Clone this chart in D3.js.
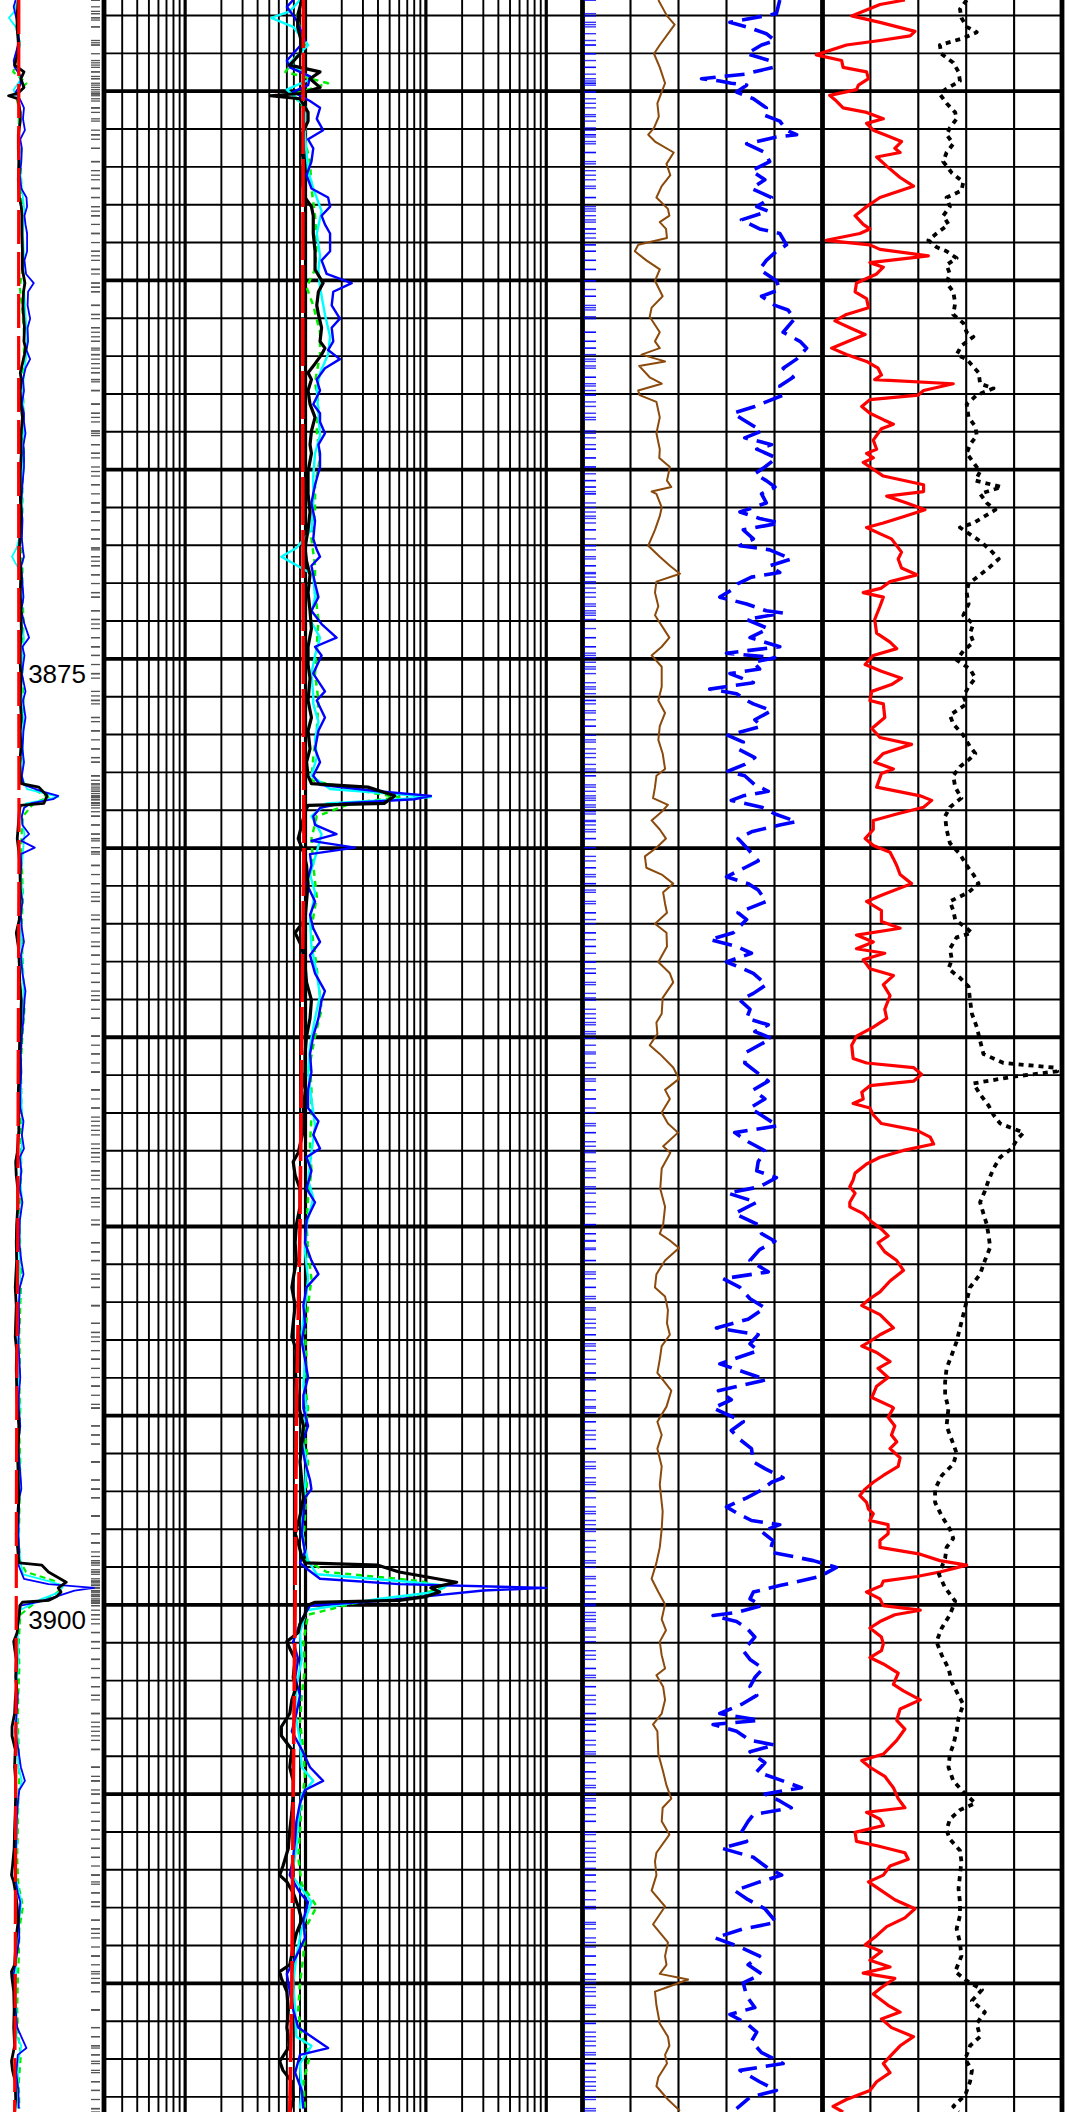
<!DOCTYPE html>
<html>
<head>
<meta charset="utf-8">
<script src="https://cdn.jsdelivr.net/npm/d3@7"></script>
<style>
  body { margin: 0; background: #fff; }
  svg { display: block; }
</style>
</head>
<body>
<div id="log"></div>
<script>
// **************** Data (depth in m, value) ****************

const depthTop = 3857.59;
const depthBottom = 3913.4;
const depthLabels = [3875, 3900];

// resistivity curves, ohm.m (black, blue, cyan, green dashed, red dashed)
const resDeep = [[3857.59,9.3],[3857.95,8.7],[3858.30,8.6],[3858.72,9.3],[3859.01,9.0],[3859.31,7.4],[3859.49,13.2],[3859.67,10.9],[3859.90,13.2],[3860.06,9.0],[3860.12,5.1],[3860.20,9.0],[3860.56,10.5],[3860.79,10.5],[3861.15,9.3],[3861.51,9.3],[3861.86,9.6],[3862.34,9.3],[3862.81,9.9],[3863.05,11.2],[3863.29,11.6],[3863.76,11.6],[3864.23,12.0],[3864.71,12.0],[3865.07,14.0],[3865.30,12.8],[3865.66,12.4],[3865.90,12.8],[3866.25,13.6],[3866.61,13.2],[3866.79,14.5],[3866.96,13.6],[3867.20,12.0],[3867.44,10.5],[3867.62,11.2],[3867.91,10.5],[3868.27,10.9],[3868.62,12.0],[3868.98,11.2],[3869.34,10.9],[3869.57,11.2],[3870.05,10.5],[3870.64,10.5],[3871.12,10.9],[3871.59,10.5],[3872.07,9.9],[3872.42,10.2],[3872.78,10.9],[3873.25,10.5],[3873.73,10.9],[3874.20,11.2],[3874.68,10.5],[3875.15,10.5],[3875.51,10.9],[3876.10,10.5],[3876.55,11.2],[3876.90,10.5],[3877.38,10.9],[3877.73,10.2],[3878.09,10.5],[3878.30,11.2],[3878.39,33],[3878.62,55],[3878.82,45],[3878.87,10.5],[3879.04,9.9],[3879.39,9.3],[3879.75,8.7],[3880.10,9.6],[3880.46,10.2],[3880.94,10.5],[3881.41,10.2],[3881.89,9.9],[3882.24,8.2],[3882.60,9.3],[3883.07,9.9],[3883.55,10.2],[3884.02,11.2],[3884.50,10.9],[3884.97,10.2],[3885.44,9.9],[3885.92,9.9],[3886.39,9.3],[3886.87,9.6],[3887.46,9.6],[3888.05,8.7],[3888.29,7.9],[3888.65,8.2],[3889.00,9.0],[3889.48,9.0],[3889.95,8.4],[3890.43,8.2],[3890.90,8.4],[3891.38,7.9],[3891.61,7.7],[3892.09,8.2],[3892.56,7.9],[3892.92,7.7],[3893.28,8.4],[3893.75,8.2],[3894.22,8.4],[3894.70,8.7],[3895.27,9.6],[3895.75,9.3],[3896.22,9.0],[3896.70,9.3],[3897.17,9.6],[3897.65,9.0],[3898.12,8.2],[3898.36,8.7],[3898.72,9.3],[3898.89,9.9],[3898.95,40],[3899.13,60],[3899.40,180],[3899.55,110],[3899.66,130],[3899.78,100],[3899.88,60],[3899.93,12],[3900.02,10.2],[3900.26,9.9],[3900.50,9.0],[3900.73,8.7],[3900.97,7.0],[3901.15,7.4],[3901.44,8.2],[3901.92,7.9],[3902.16,8.4],[3902.51,7.7],[3902.87,7.4],[3903.22,6.3],[3903.46,6.3],[3903.82,7.7],[3904.29,7.4],[3904.65,7.9],[3905.00,7.9],[3905.48,7.7],[3905.95,7.4],[3906.43,7.2],[3906.90,6.5],[3907.14,6.1],[3907.32,7.0],[3907.61,7.9],[3907.97,8.7],[3908.33,9.3],[3908.68,8.4],[3909.04,7.9],[3909.51,7.4],[3909.69,6.1],[3909.87,6.3],[3910.22,7.0],[3910.70,7.2],[3911.17,7.0],[3911.65,7.4],[3912.06,6.1],[3912.30,6.5],[3912.60,7.7],[3913.07,7.9],[3913.40,7.4]];

const resMedium = [[3857.59,7.9],[3857.77,7.0],[3857.95,7.7],[3858.12,8.4],[3858.66,9.9],[3859.19,7.0],[3859.37,7.4],[3859.61,10.9],[3859.84,10.5],[3860.02,7.9],[3860.26,10.9],[3860.44,13.2],[3860.73,12.4],[3861.03,14.0],[3861.27,10.5],[3861.51,11.6],[3861.86,11.2],[3862.22,10.2],[3862.57,11.2],[3862.81,15.4],[3863.05,16.0],[3863.29,13.6],[3863.52,14.5],[3863.76,16.0],[3864.23,16.0],[3864.47,13.6],[3864.83,15.0],[3865.07,24.2],[3865.30,17.0],[3865.66,16.5],[3866.01,19.3],[3866.25,16.5],[3866.61,17.0],[3866.84,15.4],[3867.08,19.3],[3867.32,14.5],[3867.62,12.4],[3867.91,13.2],[3868.27,11.6],[3868.51,13.2],[3868.74,13.2],[3869.04,14.5],[3869.34,12.8],[3869.57,13.2],[3869.93,13.2],[3870.40,12.0],[3870.88,11.2],[3871.35,12.0],[3871.83,11.6],[3872.12,12.4],[3872.30,13.2],[3872.54,11.2],[3873.01,12.0],[3873.37,12.8],[3873.73,11.2],[3874.08,13.6],[3874.44,18.1],[3874.68,12.0],[3874.91,13.6],[3875.39,11.6],[3875.86,14.5],[3876.10,12.4],[3876.55,14.5],[3876.90,12.8],[3877.38,12.0],[3877.73,13.2],[3878.09,11.6],[3878.33,13.2],[3878.50,40],[3878.62,110],[3878.71,80],[3878.82,20],[3878.94,13.2],[3879.16,11.6],[3879.39,12.0],[3879.63,18.1],[3879.81,11.2],[3879.99,25.7],[3880.16,10.9],[3880.46,11.2],[3880.94,10.2],[3881.41,12.0],[3881.77,10.9],[3882.12,11.6],[3882.48,13.2],[3882.83,10.9],[3883.31,12.0],[3883.78,14.5],[3884.02,13.6],[3884.50,12.8],[3884.97,11.6],[3885.44,10.9],[3885.92,11.2],[3886.39,10.5],[3886.87,10.5],[3887.22,12.8],[3887.58,11.6],[3887.94,13.2],[3888.17,10.2],[3888.53,11.2],[3889.00,10.2],[3889.36,12.0],[3889.83,10.2],[3890.43,9.9],[3890.90,11.2],[3891.26,12.8],[3891.61,10.2],[3892.09,9.6],[3892.56,9.9],[3893.04,9.3],[3893.51,9.9],[3893.99,10.5],[3894.46,9.6],[3894.80,9.6],[3895.27,10.5],[3895.75,9.3],[3896.22,9.9],[3896.70,10.9],[3896.94,11.2],[3897.17,9.9],[3897.65,9.6],[3898.12,9.3],[3898.60,9.9],[3898.89,9.0],[3899.07,10.5],[3899.31,13.2],[3899.45,60],[3899.55,1000],[3899.62,300],[3899.76,110],[3899.90,40],[3900.02,10.9],[3900.38,9.3],[3900.97,7.9],[3901.44,8.7],[3901.92,8.2],[3902.39,9.0],[3902.87,8.4],[3903.34,7.7],[3903.82,9.3],[3904.29,10.9],[3904.65,14.0],[3904.89,9.9],[3905.24,9.0],[3905.72,8.4],[3906.19,8.2],[3906.67,7.9],[3907.14,7.4],[3907.61,9.0],[3907.85,10.5],[3908.33,9.6],[3908.80,9.9],[3909.28,8.4],[3909.75,7.0],[3910.22,7.4],[3910.70,7.9],[3911.17,8.7],[3911.71,15.4],[3911.89,9.0],[3912.36,8.2],[3912.83,9.3],[3913.31,9.6]];

const resShallow = [[3857.59,9.0],[3857.89,7.4],[3858.06,5.2],[3858.30,7.9],[3858.78,10.5],[3859.25,7.4],[3859.67,11.2],[3859.96,7.0],[3860.44,10.2],[3861.15,9.9],[3862.10,10.5],[3862.57,11.6],[3863.17,13.6],[3863.76,12.4],[3864.35,13.2],[3864.71,12.8],[3865.18,13.2],[3865.90,14.5],[3866.49,16.0],[3866.96,15.4],[3867.44,13.2],[3867.91,12.4],[3868.51,12.8],[3869.10,13.2],[3869.57,12.0],[3870.17,11.6],[3870.88,11.6],[3871.59,11.2],[3872.07,8.4],[3872.30,6.3],[3872.78,11.6],[3873.37,12.0],[3873.96,10.9],[3874.44,13.2],[3874.91,12.0],[3875.39,11.2],[3875.98,11.6],[3876.19,11.6],[3876.66,12.8],[3877.14,12.0],[3877.61,12.4],[3878.09,11.2],[3878.44,16.0],[3878.56,50],[3878.65,110],[3878.73,50],[3878.82,15.0],[3879.16,11.2],[3879.63,13.6],[3880.10,12.4],[3880.70,10.9],[3881.17,12.0],[3881.89,10.9],[3882.60,11.2],[3883.31,12.4],[3883.90,13.2],[3884.50,12.0],[3885.21,10.9],[3885.92,10.5],[3886.63,11.2],[3887.34,12.0],[3888.05,11.2],[3888.77,10.5],[3889.24,11.6],[3889.95,10.2],[3890.67,9.9],[3891.38,10.5],[3892.09,9.9],[3892.80,9.3],[3893.51,9.9],[3894.22,9.6],[3894.80,10.2],[3895.51,9.3],[3896.22,10.2],[3896.94,9.9],[3897.65,9.3],[3898.36,9.6],[3898.83,10.5],[3899.19,12.4],[3899.37,60],[3899.49,150],[3899.66,120],[3899.84,40],[3900.14,10.2],[3900.73,9.0],[3901.44,9.3],[3902.16,8.4],[3902.87,8.2],[3903.58,9.0],[3904.29,9.3],[3904.65,11.6],[3905.00,9.3],[3905.72,8.7],[3906.43,8.4],[3907.14,7.7],[3907.85,11.2],[3908.56,9.3],[3909.28,8.4],[3909.99,7.9],[3910.70,8.2],[3911.41,8.4],[3911.65,11.2],[3912.12,9.0],[3912.83,9.3],[3913.31,9.0]];

const resFlushed = [[3857.59,9.3],[3858.06,8.4],[3858.78,10.2],[3859.49,6.8],[3859.79,15.4],[3860.08,7.9],[3860.44,9.6],[3861.15,9.6],[3861.86,10.9],[3862.57,11.2],[3863.29,12.0],[3864.00,12.4],[3864.71,12.0],[3865.18,10.2],[3865.66,11.6],[3866.37,13.2],[3866.96,13.2],[3867.68,12.0],[3868.27,12.8],[3868.98,12.4],[3869.69,13.2],[3870.40,12.0],[3871.12,12.0],[3871.83,11.2],[3872.54,12.0],[3873.25,12.0],[3873.96,12.8],[3874.68,12.4],[3875.39,12.0],[3876.10,12.8],[3876.90,12.4],[3877.61,11.6],[3878.21,11.2],[3878.50,30],[3878.66,60],[3878.80,25],[3879.16,12.4],[3879.75,11.2],[3880.46,11.6],[3881.29,12.4],[3882.12,11.2],[3882.83,12.0],[3883.55,12.8],[3884.26,13.6],[3884.97,12.0],[3885.68,10.9],[3886.39,11.2],[3887.11,11.2],[3887.82,10.9],[3888.53,11.2],[3889.24,10.5],[3889.95,10.2],[3890.67,10.5],[3891.38,11.2],[3892.09,10.5],[3892.80,9.9],[3893.51,10.2],[3894.22,9.9],[3894.80,10.5],[3895.51,9.9],[3896.22,10.5],[3896.94,10.2],[3897.65,9.9],[3898.36,9.6],[3898.83,10.2],[3899.13,15.0],[3899.37,90],[3899.55,140],[3899.72,90],[3899.96,25],[3900.26,10.5],[3900.97,9.6],[3901.68,9.9],[3902.39,9.3],[3903.10,9.0],[3903.82,9.6],[3904.53,9.9],[3905.24,9.3],[3905.95,9.0],[3906.67,8.7],[3907.38,9.3],[3907.97,12.4],[3908.56,9.9],[3909.28,9.6],[3909.99,9.0],[3910.70,8.7],[3911.41,9.3],[3911.89,10.9],[3912.60,9.6],[3913.31,9.9]];

const resMud = [[3857.59,9.6],[3865,9.5],[3870,9.5],[3876,9.6],[3880,9.7],[3885,9.3],[3890,9.0],[3894,8.5],[3897,8.3],[3900,8.2],[3905,7.9],[3910,7.7],[3913.4,7.4]];

// track 3: brown solid and blue dashed, track 4: red solid and black dotted (0-50 per track)
const caliper = [[3857.59,15.8],[3858.01,17.6],[3858.24,19.2],[3858.78,16.1],[3859.01,14.9],[3859.37,16.1],[3859.79,17.2],[3860.02,16.5],[3860.32,15.6],[3860.67,15.9],[3860.97,14.9],[3861.15,13.7],[3861.33,15.1],[3861.62,19.0],[3861.92,17.5],[3862.22,18.3],[3862.51,16.5],[3862.81,15.4],[3863.11,17.8],[3863.29,18.1],[3863.46,16.1],[3863.64,17.4],[3863.88,17.6],[3864.06,11.6],[3864.23,10.9],[3864.47,13.3],[3864.71,16.1],[3865.01,15.1],[3865.42,16.7],[3865.72,14.4],[3865.96,14.0],[3866.37,16.1],[3866.61,15.1],[3866.79,16.1],[3866.96,12.3],[3867.14,17.2],[3867.26,11.8],[3867.56,14.0],[3867.73,16.5],[3867.91,11.6],[3868.03,11.9],[3868.21,15.4],[3868.62,16.1],[3869.04,15.4],[3869.46,16.1],[3869.69,16.0],[3869.93,18.2],[3870.29,17.6],[3870.46,18.5],[3870.58,14.4],[3870.64,15.4],[3871.00,16.5],[3871.23,16.1],[3871.59,15.1],[3872.01,13.7],[3872.30,16.1],[3872.54,18.2],[3872.75,20.3],[3872.96,15.4],[3873.25,15.1],[3873.61,15.8],[3873.85,15.1],[3874.44,18.1],[3874.68,16.5],[3874.91,14.4],[3875.21,16.5],[3875.74,16.5],[3876.10,15.8],[3876.43,17.2],[3876.78,16.1],[3877.14,15.8],[3877.50,16.7],[3877.91,17.2],[3878.09,15.4],[3878.39,15.1],[3878.68,14.7],[3878.86,17.8],[3879.04,16.5],[3879.27,14.4],[3879.51,16.1],[3879.75,17.4],[3879.99,15.4],[3880.22,13.0],[3880.52,13.3],[3880.70,16.5],[3880.94,18.9],[3881.17,16.8],[3881.47,17.2],[3881.71,17.6],[3882.00,15.1],[3882.24,17.5],[3882.60,17.6],[3883.01,15.8],[3883.31,18.2],[3883.55,18.9],[3883.96,16.7],[3884.38,16.5],[3884.61,15.4],[3884.91,15.6],[3885.21,14.0],[3885.44,16.1],[3885.80,18.9],[3886.10,20.1],[3886.39,17.2],[3886.63,18.2],[3886.99,16.5],[3887.28,17.8],[3887.52,19.9],[3887.88,16.8],[3888.05,18.3],[3888.47,16.5],[3889.00,16.2],[3889.48,17.2],[3889.95,16.8],[3890.19,16.1],[3890.37,18.2],[3890.57,20.1],[3890.90,17.2],[3891.26,15.4],[3891.61,15.1],[3891.85,17.2],[3892.21,17.8],[3892.56,17.6],[3892.86,18.2],[3893.16,16.5],[3893.51,16.1],[3893.87,15.6],[3894.34,18.5],[3894.76,17.5],[3895.16,15.6],[3895.51,16.5],[3895.87,15.6],[3896.34,16.5],[3896.82,16.1],[3897.53,16.7],[3898.00,16.5],[3898.48,16.1],[3898.89,15.4],[3899.31,14.4],[3899.66,15.8],[3899.98,17.2],[3900.38,16.5],[3900.67,17.4],[3900.97,16.1],[3901.33,16.5],[3901.68,17.2],[3901.86,15.4],[3902.16,16.8],[3902.51,17.2],[3902.87,16.5],[3903.16,14.7],[3903.34,15.6],[3903.94,15.8],[3904.41,16.8],[3904.77,17.5],[3905.12,18.5],[3905.36,16.7],[3905.72,16.5],[3906.07,18.1],[3906.55,15.4],[3906.78,15.1],[3907.14,15.4],[3907.55,14.4],[3907.97,17.2],[3908.44,14.7],[3908.92,17.8],[3909.28,17.2],[3909.51,17.5],[3909.75,16.1],[3909.90,22.0],[3910.11,17.5],[3910.22,15.1],[3910.58,15.4],[3911.06,16.1],[3911.41,17.8],[3911.65,18.1],[3911.89,17.2],[3912.12,17.6],[3912.48,15.8],[3912.72,15.4],[3913.07,17.8],[3913.37,20.3]];

const gammaRay = [[3857.59,41.1],[3857.95,40.4],[3858.18,30.7],[3858.30,34.2],[3858.48,38.3],[3858.66,40.1],[3858.78,37.3],[3859.01,34.2],[3859.19,39.0],[3859.37,39.7],[3859.55,33.8],[3859.67,24.8],[3859.73,28.6],[3859.79,31.0],[3859.84,34.2],[3860.02,32.1],[3860.20,35.6],[3860.44,38.3],[3860.62,37.6],[3860.79,41.1],[3861.03,42.5],[3861.15,44.6],[3861.21,40.4],[3861.39,34.2],[3861.62,38.0],[3861.86,39.0],[3862.10,35.2],[3862.34,38.0],[3862.57,35.2],[3862.81,39.4],[3863.05,36.3],[3863.17,38.7],[3863.40,33.1],[3863.64,36.9],[3863.76,41.1],[3864.06,42.5],[3864.23,40.4],[3864.47,38.3],[3864.71,36.9],[3865.01,40.4],[3865.24,41.1],[3865.42,37.3],[3865.66,40.1],[3865.78,42.8],[3866.01,44.2],[3866.37,41.8],[3866.61,45.3],[3866.79,46.7],[3867.08,44.6],[3867.32,41.8],[3867.56,43.9],[3867.79,41.1],[3868.03,41.8],[3868.33,35.9],[3868.51,31.4],[3868.68,33.5],[3868.98,37.3],[3869.16,33.8],[3869.34,39.4],[3869.46,36.3],[3869.69,40.4],[3869.93,38.0],[3870.11,35.9],[3870.29,38.3],[3870.46,40.1],[3870.64,37.3],[3870.88,38.3],[3871.12,32.8],[3871.29,36.9],[3871.41,41.1],[3871.59,33.5],[3871.83,35.6],[3872.01,32.8],[3872.12,39.0],[3872.36,43.5],[3872.54,39.0],[3872.72,41.1],[3872.84,35.2],[3873.01,32.4],[3873.13,31.7],[3873.37,28.6],[3873.55,34.2],[3873.73,38.3],[3873.79,41.8],[3873.96,34.2],[3874.20,38.7],[3874.44,34.9],[3874.68,41.1],[3874.85,30.0],[3874.97,40.1],[3875.09,35.6],[3875.27,36.9],[3875.39,30.7],[3875.63,35.6],[3875.80,26.5],[3875.92,32.1],[3876.10,34.2],[3876.19,35.6],[3876.37,39.4],[3876.61,35.9],[3876.78,37.3],[3877.02,30.3],[3877.20,33.5],[3877.38,32.4],[3877.61,35.9],[3877.79,33.8],[3877.97,30.3],[3878.09,33.8],[3878.33,35.9],[3878.50,38.7],[3878.62,33.5],[3878.74,31.0],[3878.92,37.3],[3879.10,40.1],[3879.30,44.6],[3879.39,41.1],[3879.57,35.2],[3879.75,32.4],[3879.99,34.2],[3880.34,36.6],[3880.52,33.8],[3880.76,30.0],[3880.94,34.5],[3881.11,36.6],[3881.41,38.3],[3881.71,32.4],[3881.89,34.2],[3882.24,31.4],[3882.42,26.5],[3882.60,32.1],[3882.78,35.2],[3883.01,30.0],[3883.19,33.5],[3883.31,35.6],[3883.61,38.3],[3883.84,35.6],[3884.02,32.8],[3884.26,34.9],[3884.50,34.2],[3884.67,38.7],[3884.85,35.9],[3885.03,39.4],[3885.39,34.2],[3885.68,33.8],[3886.16,38.7],[3886.39,35.6],[3886.63,38.0],[3886.87,34.9],[3887.34,40.7],[3887.52,31.7],[3887.76,34.5],[3888.00,38.0],[3888.29,36.6],[3888.53,36.3],[3888.71,40.4],[3888.95,36.9],[3889.12,30.3],[3889.36,36.3],[3889.66,31.7],[3889.95,36.6],[3890.19,37.3],[3890.39,40.1],[3890.61,36.9],[3890.90,34.9],[3891.20,38.7],[3891.38,29.3],[3891.61,32.8],[3891.91,34.9],[3892.15,38.0],[3892.45,34.5],[3892.68,27.9],[3892.86,36.6],[3893.10,34.9],[3893.28,36.6],[3893.63,28.6],[3893.87,34.2],[3894.05,38.3],[3894.34,28.3],[3894.58,31.0],[3894.80,27.2],[3894.92,29.3],[3895.16,33.5],[3895.39,31.0],[3895.63,32.8],[3895.87,35.2],[3896.22,35.6],[3896.40,38.0],[3896.64,41.8],[3896.76,39.4],[3896.99,36.9],[3897.17,34.2],[3897.41,30.0],[3897.59,32.4],[3897.77,35.2],[3897.88,41.1],[3898.06,37.3],[3898.30,39.7],[3898.60,39.0],[3898.83,48.1],[3899.01,52.9],[3899.25,49.4],[3899.49,41.1],[3899.66,35.6],[3899.84,34.9],[3900.02,37.3],[3900.20,32.1],[3900.28,27.2],[3900.44,32.1],[3900.61,34.2],[3900.85,35.9],[3901.21,33.5],[3901.44,34.9],[3901.68,37.6],[3901.92,35.9],[3902.16,34.9],[3902.39,36.3],[3902.63,33.1],[3902.87,28.6],[3903.05,36.9],[3903.16,27.2],[3903.34,32.1],[3903.58,34.9],[3903.70,40.1],[3903.88,34.9],[3904.17,38.0],[3904.41,36.3],[3904.59,40.4],[3904.83,45.6],[3905.00,38.0],[3905.18,41.1],[3905.36,43.5],[3905.54,35.6],[3905.72,34.5],[3906.01,33.1],[3906.25,34.2],[3906.43,29.0],[3906.67,35.6],[3906.96,38.7],[3907.14,41.5],[3907.32,36.9],[3907.55,31.7],[3907.79,34.5],[3908.03,38.0],[3908.39,40.4],[3908.56,33.5],[3908.80,27.6],[3909.04,32.8],[3909.28,36.9],[3909.51,34.5],[3909.75,37.3],[3909.99,33.5],[3910.34,34.2],[3910.64,35.9],[3910.82,30.7],[3911.06,34.2],[3911.29,36.3],[3911.53,35.2],[3911.83,37.3],[3912.12,41.8],[3912.30,32.8],[3912.60,36.9],[3912.83,40.4],[3913.01,34.9],[3913.31,32.1]];

const neutron = [[3857.59,17.2],[3857.71,12.0],[3858.01,6.1],[3858.18,12.0],[3858.42,19.3],[3858.54,18.3],[3858.66,12.0],[3858.78,5.0],[3859.04,-1.3],[3859.19,4.0],[3859.37,4.3],[3859.49,9.2],[3859.67,9.6],[3859.84,7.5],[3859.96,7.1],[3860.11,1.5],[3860.26,2.9],[3860.44,4.3],[3860.56,9.2],[3860.73,12.7],[3860.85,9.2],[3861.03,10.6],[3861.15,13.0],[3861.33,16.5],[3861.51,15.1],[3861.62,16.2],[3861.74,11.3],[3861.98,13.4],[3862.28,16.2],[3862.51,19.0],[3862.63,16.2],[3862.81,12.0],[3863.05,9.2],[3863.29,6.8],[3863.52,8.5],[3863.64,9.9],[3863.76,7.8],[3863.94,0.8],[3864.06,9.9],[3864.18,12.0],[3864.35,22.1],[3864.53,9.9],[3864.65,12.7],[3864.83,11.3],[3865.07,7.1],[3865.30,6.8],[3865.48,9.2],[3865.72,9.6],[3865.90,5.0],[3866.07,2.6],[3866.25,5.7],[3866.43,8.9],[3866.61,5.4],[3866.79,1.9],[3866.96,5.0],[3867.14,9.2],[3867.32,11.6],[3867.50,12.3],[3867.62,10.9],[3867.73,27.3],[3867.91,21.1],[3868.03,20.0],[3868.15,9.9],[3868.33,8.2],[3868.51,9.9],[3868.68,12.7],[3868.80,14.8],[3868.92,12.3],[3869.22,10.6],[3869.46,11.3],[3869.57,9.2],[3869.69,10.6],[3869.81,8.5],[3869.93,9.9],[3870.17,12.7],[3870.40,21.1],[3870.58,21.1],[3870.70,13.4],[3870.88,17.6],[3871.06,21.4],[3871.23,17.2],[3871.41,12.7],[3871.53,9.2],[3871.71,12.3],[3871.83,14.4],[3872.01,15.5],[3872.18,16.5],[3872.36,15.8],[3872.60,16.5],[3872.78,19.7],[3872.96,14.1],[3873.13,12.3],[3873.25,8.5],[3873.37,12.7],[3873.61,12.0],[3873.96,10.9],[3874.32,11.3],[3874.56,14.1],[3874.73,15.5],[3874.91,10.6],[3875.15,8.9],[3875.33,12.3],[3875.51,16.5],[3875.68,14.4],[3875.86,10.3],[3876.10,9.9],[3876.19,12.7],[3876.55,13.0],[3876.84,10.3],[3877.08,12.0],[3877.26,18.6],[3877.50,12.7],[3877.73,10.9],[3877.91,14.8],[3878.03,12.3],[3878.39,11.3],[3878.62,20.4],[3878.74,22.8],[3878.92,21.1],[3879.10,15.5],[3879.27,10.6],[3879.51,10.6],[3879.75,8.9],[3879.93,10.6],[3880.11,14.1],[3880.28,14.8],[3880.46,15.5],[3880.70,16.2],[3880.94,18.6],[3881.23,12.7],[3881.41,9.2],[3881.65,12.3],[3881.94,12.3],[3882.12,16.2],[3882.30,7.1],[3882.48,10.6],[3882.66,7.1],[3882.78,13.0],[3882.95,8.5],[3883.19,9.9],[3883.37,14.8],[3883.61,12.7],[3883.90,14.1],[3884.26,13.0],[3884.50,13.4],[3884.73,10.6],[3884.97,7.1],[3885.21,6.1],[3885.56,6.4],[3885.68,9.2],[3885.80,19.0],[3885.98,20.7],[3886.16,19.0],[3886.28,9.9],[3886.45,8.2],[3886.63,8.5],[3886.75,6.4],[3886.87,9.9],[3887.05,10.6],[3887.28,12.3],[3887.46,19.7],[3887.64,22.5],[3887.82,23.2],[3887.99,16.9],[3888.17,12.0],[3888.35,9.2],[3888.59,6.8],[3888.77,6.4],[3888.95,5.7],[3889.12,6.8],[3889.36,5.7],[3889.48,5.7],[3889.66,8.5],[3889.84,9.9],[3890.07,12.3],[3890.25,13.7],[3890.43,11.6],[3890.67,13.0],[3890.90,15.5],[3891.16,16.9],[3891.44,14.1],[3891.73,12.0],[3891.91,9.9],[3892.09,8.2],[3892.33,12.0],[3892.68,14.8],[3892.86,12.0],[3893.04,9.9],[3893.16,8.2],[3893.33,11.3],[3893.57,14.1],[3893.75,11.6],[3893.99,13.7],[3894.22,11.3],[3894.52,10.3],[3894.76,14.4],[3894.80,14.8],[3895.04,13.7],[3895.27,15.1],[3895.51,14.4],[3895.69,15.5],[3895.87,14.1],[3896.11,16.2],[3896.34,15.8],[3896.58,12.7],[3896.76,10.6],[3896.94,8.9],[3897.11,7.8],[3897.29,9.2],[3897.47,9.6],[3897.59,10.6],[3897.77,9.9],[3897.88,13.7],[3898.12,13.7],[3898.30,12.0],[3898.48,12.0],[3898.66,20.4],[3898.83,24.5],[3898.95,30.1],[3899.13,24.5],[3899.25,19.7],[3899.37,12.7],[3899.49,12.3],[3899.66,9.2],[3899.84,12.0],[3900.02,12.7],[3900.14,20.4],[3900.26,15.1],[3900.44,12.0],[3900.61,9.9],[3900.85,12.3],[3901.03,12.7],[3901.21,12.3],[3901.39,9.9],[3901.56,12.7],[3901.80,15.8],[3902.10,14.8],[3902.27,16.9],[3902.51,20.4],[3902.75,16.2],[3903.05,15.5],[3903.28,17.2],[3903.58,15.5],[3903.94,12.7],[3904.11,8.2],[3904.29,9.9],[3904.53,13.0],[3904.83,14.8],[3905.12,15.8],[3905.36,17.2],[3905.48,9.2],[3905.66,12.0],[3905.83,12.7],[3906.01,6.8],[3906.25,7.1],[3906.37,11.6],[3906.55,17.2],[3906.72,17.9],[3906.90,14.1],[3907.14,12.7],[3907.32,9.6],[3907.55,12.3],[3907.79,15.1],[3908.03,19.3],[3908.27,17.2],[3908.50,13.4],[3908.74,11.3],[3908.98,8.9],[3909.16,12.3],[3909.39,9.9],[3909.57,14.1],[3909.73,8.5],[3909.87,15.1],[3910.11,12.3],[3910.28,10.6],[3910.58,13.7],[3910.76,16.2],[3910.94,12.3],[3911.17,14.4],[3911.41,19.0],[3911.65,16.2],[3911.89,14.4],[3912.12,12.7],[3912.36,14.1],[3912.60,11.3],[3912.83,9.9],[3913.07,5.0],[3913.25,2.2],[3913.40,4.3]];

const density = [[3857.59,30.1],[3857.83,28.7],[3858.06,29.0],[3858.30,30.1],[3858.44,32.2],[3858.60,29.4],[3858.78,24.5],[3859.01,24.8],[3859.25,27.3],[3859.49,28.4],[3859.73,28.7],[3859.96,25.6],[3860.08,24.5],[3860.32,25.9],[3860.56,27.7],[3860.73,28.0],[3860.97,26.6],[3861.15,25.9],[3861.39,27.3],[3861.62,25.9],[3861.86,25.2],[3862.16,27.0],[3862.40,29.4],[3862.63,29.0],[3862.81,25.9],[3863.05,26.6],[3863.29,25.2],[3863.52,26.3],[3863.76,23.8],[3863.94,22.1],[3864.12,23.8],[3864.23,25.9],[3864.41,28.0],[3864.59,25.9],[3864.83,26.6],[3865.06,25.9],[3865.30,27.3],[3865.60,27.7],[3865.90,27.3],[3866.13,29.4],[3866.37,30.1],[3866.49,31.5],[3866.73,29.0],[3866.96,28.0],[3867.08,30.1],[3867.44,32.6],[3867.73,32.9],[3867.85,35.7],[3868.03,32.2],[3868.27,30.1],[3868.62,30.5],[3868.86,31.9],[3869.10,32.2],[3869.34,30.8],[3869.57,30.1],[3869.81,31.5],[3870.05,32.9],[3870.29,31.9],[3870.46,37.4],[3870.64,32.9],[3870.88,34.3],[3871.06,36.1],[3871.23,33.9],[3871.41,31.5],[3871.53,28.7],[3871.71,30.8],[3871.89,32.9],[3872.12,35.0],[3872.36,36.8],[3872.60,34.7],[3872.78,32.9],[3873.01,30.5],[3873.25,30.1],[3873.55,30.5],[3873.85,29.4],[3874.08,31.5],[3874.32,30.8],[3874.56,31.5],[3874.79,29.4],[3875.03,28.0],[3875.27,30.8],[3875.51,31.9],[3875.74,30.5],[3875.98,29.4],[3876.19,30.1],[3876.49,26.6],[3876.72,27.3],[3877.02,29.4],[3877.32,30.8],[3877.50,31.9],[3877.67,30.5],[3877.85,28.7],[3878.09,27.3],[3878.39,27.7],[3878.68,29.0],[3878.92,26.6],[3879.16,25.6],[3879.51,25.9],[3879.87,26.6],[3880.16,28.7],[3880.46,30.1],[3880.70,31.5],[3880.94,32.6],[3881.17,30.5],[3881.41,26.6],[3881.65,27.3],[3881.89,27.7],[3882.12,30.1],[3882.24,31.2],[3882.36,28.0],[3882.66,26.6],[3882.95,27.0],[3883.19,26.3],[3883.43,28.7],[3883.66,30.5],[3884.02,30.8],[3884.38,31.2],[3884.73,32.2],[3885.09,32.9],[3885.44,33.6],[3885.68,37.8],[3885.80,48.3],[3885.90,49.0],[3886.04,39.9],[3886.22,31.5],[3886.51,32.9],[3886.81,34.7],[3887.05,35.7],[3887.28,37.1],[3887.52,42.0],[3887.70,40.6],[3887.94,39.5],[3888.17,37.1],[3888.47,35.7],[3888.77,34.7],[3889.06,33.9],[3889.36,32.9],[3889.66,33.6],[3889.95,34.3],[3890.25,34.7],[3890.55,35.0],[3890.90,33.9],[3891.26,32.9],[3891.61,30.8],[3891.97,30.1],[3892.33,29.4],[3892.68,28.7],[3893.04,28.0],[3893.39,27.0],[3893.75,25.9],[3894.11,25.6],[3894.46,25.6],[3894.80,26.3],[3895.27,25.9],[3895.75,27.3],[3895.99,28.0],[3896.28,27.3],[3896.58,24.9],[3896.94,23.5],[3897.29,23.5],[3897.65,24.9],[3898.00,26.6],[3898.24,27.3],[3898.48,25.9],[3898.77,25.6],[3899.19,24.3],[3899.55,25.6],[3899.90,27.7],[3900.26,26.6],[3900.61,24.9],[3900.97,23.8],[3901.33,24.9],[3901.68,26.3],[3902.04,27.0],[3902.39,28.4],[3902.63,29.4],[3902.99,28.4],[3903.34,28.0],[3903.70,27.3],[3903.94,26.6],[3904.29,26.3],[3904.65,27.3],[3904.94,29.4],[3905.24,31.9],[3905.42,28.7],[3905.66,26.6],[3905.95,25.9],[3906.19,26.6],[3906.49,28.7],[3906.78,29.0],[3907.14,28.7],[3907.50,28.4],[3907.85,28.7],[3908.21,28.7],[3908.56,28.0],[3908.92,28.7],[3909.28,29.0],[3909.69,27.7],[3909.93,30.1],[3910.17,33.3],[3910.46,31.2],[3910.76,33.9],[3911.06,32.2],[3911.41,32.9],[3911.65,30.8],[3912.00,29.8],[3912.30,31.2],[3912.60,30.8],[3912.95,29.8],[3913.25,27.3],[3913.40,28.4]];

// **************** Draw Log ****************

function drawLog() {
  let width = 1078;
  let height = 2112;

  let svg = d3.select('#log').append('svg')
    .attr('width', width)
    .attr('height', height)
    .style('background', '#fff');

  // depth runs down the page
  let y = d3.scaleLinear().domain([depthTop, depthBottom]).range([0, height]);

  // track scales
  let xRes = d3.scaleLog().domain([0.2, 2000]).range([101, 582.5]);
  let xMini = d3.scaleLog().domain([3, 1000]).range([0, 94]);
  let xTrack3 = d3.scaleLinear().domain([0, 50]).range([582.5, 822.5]);
  let xTrack4 = d3.scaleLinear().domain([0, 50]).range([822.5, 1062]);

  let grid = svg.append('g').attr('class', 'grid');

  // vertical lines of the log track (1-9 per decade, decades heavier)
  let logTicks = xRes.ticks().filter(v => v > 0.2 && v < 2000);
  grid.selectAll('line.logv')
    .data(logTicks)
    .enter().append('line')
    .attr('class', 'logv')
    .attr('x1', d => xRes(d)).attr('x2', d => xRes(d))
    .attr('y1', 0).attr('y2', height)
    .attr('stroke', '#000')
    .attr('stroke-width', d => {
      let l = Math.log10(d);
      return Math.abs(l - Math.round(l)) < 1e-6 ? 3.2 : 1.9;
    });

  // vertical lines of the two linear tracks
  let linTicks = d3.range(10, 50, 10);
  [xTrack3, xTrack4].forEach(function (x) {
    grid.selectAll(null)
      .data(linTicks)
      .enter().append('line')
      .attr('x1', d => x(d)).attr('x2', d => x(d))
      .attr('y1', 0).attr('y2', height)
      .attr('stroke', '#000')
      .attr('stroke-width', 2.1);
  });

  // horizontal depth lines, every metre, heavy every 5 m
  let depthLines = d3.range(Math.ceil(depthTop), Math.floor(depthBottom) + 1);
  grid.selectAll('line.h')
    .data(depthLines)
    .enter().append('line')
    .attr('class', 'h')
    .attr('x1', 102).attr('x2', 1064)
    .attr('y1', d => y(d)).attr('y2', d => y(d))
    .attr('stroke', '#000')
    .attr('stroke-width', d => d % 5 === 0 ? 3.8 : 1.9);

  // track borders
  let borders = [104, xTrack3(0), xTrack4(0), xTrack4(50)];
  grid.selectAll('line.border')
    .data(borders)
    .enter().append('line')
    .attr('class', 'border')
    .attr('x1', d => d).attr('x2', d => d)
    .attr('y1', 0).attr('y2', height)
    .attr('stroke', '#000')
    .attr('stroke-width', 4.8);

  // sample ticks: grey beside the depth track, blue inside track 3
  let logDepths = [resDeep, resMedium, resShallow, resFlushed].flat().map(d => d[0]);
  svg.append('g').selectAll('line')
    .data(logDepths)
    .enter().append('line')
    .attr('x1', 91).attr('x2', 100)
    .attr('y1', d => y(d)).attr('y2', d => y(d))
    .attr('stroke', '#555')
    .attr('stroke-width', 1.3);

  let sampleDepths = [gammaRay, caliper].flat().map(d => d[0]);
  svg.append('g').selectAll('line')
    .data(sampleDepths)
    .enter().append('line')
    .attr('x1', 584).attr('x2', 596)
    .attr('y1', d => y(d)).attr('y2', d => y(d))
    .attr('stroke', '#0000ff')
    .attr('stroke-opacity', 0.8)
    .attr('stroke-width', 1.4);

  // **************** Curves ****************

  function drawCurve(data, x, color, width, dash) {
    let line = d3.line()
      .x(d => x(d[1]))
      .y(d => y(d[0]));

    svg.append('path')
      .datum(data)
      .attr('fill', 'none')
      .attr('stroke', color)
      .attr('stroke-width', width)
      .attr('stroke-dasharray', dash || null)
      .attr('stroke-linejoin', 'round')
      .attr('d', line);
  }

  // mini copy of the resistivities in the depth track
  drawCurve(resFlushed, xMini, '#00ee00', 2.2, '6,4');
  drawCurve(resShallow, xMini, '#00ffff', 1.8);
  drawCurve(resMedium, xMini, '#0000ff', 1.8);
  drawCurve(resDeep, xMini, '#000', 2.8);
  drawCurve(resMud, xMini, '#ff0000', 3.2, '34,8');

  // resistivity track
  drawCurve(resFlushed, xRes, '#00ee00', 2.5, '6,5');
  drawCurve(resShallow, xRes, '#00ffff', 2.4);
  drawCurve(resMedium, xRes, '#0000ff', 2.4);
  drawCurve(resDeep, xRes, '#000', 3.2);
  drawCurve(resMud, xRes, '#ff0000', 3.6, '48,5');

  // track 3
  drawCurve(caliper, xTrack3, '#8b4a0c', 2);
  drawCurve(gammaRay, xTrack3, '#0000ff', 3.6, '20,9');

  // track 4
  drawCurve(neutron, xTrack4, '#ff0000', 3.2);
  drawCurve(density, xTrack4, '#000', 3.8, '5,5');

  // **************** Depth labels ****************

  svg.append('g').selectAll('text')
    .data(depthLabels)
    .enter().append('text')
    .attr('x', 86)
    .attr('y', d => y(d) + 24)
    .attr('text-anchor', 'end')
    .attr('font-family', 'Liberation Sans, Arial, sans-serif')
    .attr('font-size', 26)
    .attr('fill', '#000')
    .text(d => d);
}

drawLog();
</script>
</body>
</html>
